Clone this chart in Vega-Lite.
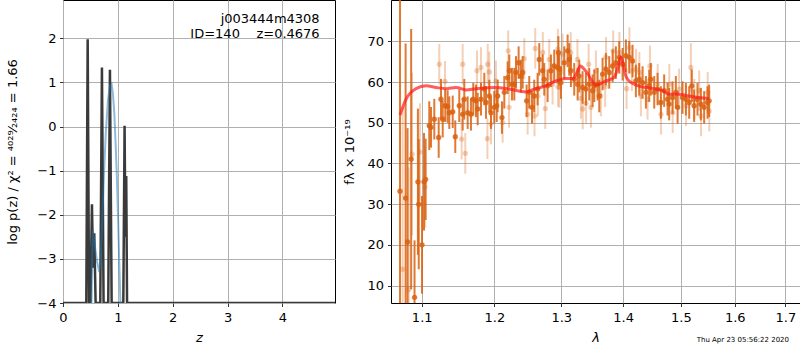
{
  "$schema": "https://vega.github.io/schema/vega-lite/v6.json",
  "padding": {"left": 5, "top": -2, "right": 1, "bottom": 0},
  "bounds": "flush",
  "spacing": 56,
  "config": {
    "font": "DejaVu Sans",
    "view": {"stroke": "black", "strokeWidth": 1},
    "axis": {"domain": false, "grid": true, "gridColor": "#b0b0b0", "gridWidth": 1, "tickColor": "black", "tickSize": 3.5, "tickWidth": 0.8, "labelFontSize": 13, "labelColor": "black", "titleFontSize": 13, "titleFontWeight": "normal", "titleColor": "black", "labelFont": "DejaVu Sans", "titleFont": "DejaVu Sans", "labelFlush": false, "labelOverlap": false}
  },
  "datasets": {
    "chi": [
      {"z": 0.0, "v": -4}, {"z": 0.425, "v": -4}, {"z": 0.45, "v": 1.98}, {"z": 0.475, "v": -4},
      {"z": 0.5, "v": -4}, {"z": 0.528, "v": -1.76}, {"z": 0.548, "v": -3.2}, {"z": 0.57, "v": -2.42}, {"z": 0.595, "v": -4},
      {"z": 0.68, "v": -4}, {"z": 0.71, "v": 1.34}, {"z": 0.74, "v": -4},
      {"z": 0.825, "v": -4}, {"z": 0.856, "v": 1.29}, {"z": 0.887, "v": -4},
      {"z": 1.1, "v": -4}, {"z": 1.123, "v": 0.02}, {"z": 1.138, "v": -2.5}, {"z": 1.153, "v": -1.12}, {"z": 1.168, "v": -4},
      {"z": 4.96, "v": -4}
    ],
    "pz": [
      {"z": 0.51, "v": -5}, {"z": 0.53, "v": -3.2}, {"z": 0.545, "v": -2.35}, {"z": 0.57, "v": -2.6}, {"z": 0.62, "v": -3.05},
      {"z": 0.66, "v": -3.3}, {"z": 0.685, "v": -3.0}, {"z": 0.71, "v": -2.3}, {"z": 0.74, "v": -1.3}, {"z": 0.78, "v": -0.15},
      {"z": 0.82, "v": 0.6}, {"z": 0.856, "v": 0.92}, {"z": 0.886, "v": 0.96}, {"z": 0.91, "v": 0.75}, {"z": 0.935, "v": 0.32},
      {"z": 0.96, "v": -0.4}, {"z": 0.984, "v": -1.19}, {"z": 1.005, "v": -2.1}, {"z": 1.026, "v": -3.08}, {"z": 1.05, "v": -4.1}, {"z": 1.06, "v": -5}
    ],
    "ann": [
      {"z": 4.68, "v": 2.44, "t": "j003444m4308"},
      {"z": 4.68, "v": 2.1, "t": "ID=140\u00a0\u00a0\u00a0\u00a0z=0.4676"}
    ],
    "model": [
      {"l": 1.0718, "f": 51.9}, {"l": 1.0795, "f": 55.8}, {"l": 1.0925, "f": 58.4}, {"l": 1.1057, "f": 59.1}, {"l": 1.119, "f": 58.7},
      {"l": 1.1324, "f": 58.4}, {"l": 1.1461, "f": 58.7}, {"l": 1.1599, "f": 58.1}, {"l": 1.1738, "f": 58.4}, {"l": 1.2022, "f": 58.7},
      {"l": 1.2211, "f": 58.3}, {"l": 1.2462, "f": 57.6}, {"l": 1.2582, "f": 58.3}, {"l": 1.2763, "f": 59.1}, {"l": 1.2917, "f": 60.3},
      {"l": 1.3072, "f": 60.9}, {"l": 1.3182, "f": 60.9}, {"l": 1.325, "f": 62.5}, {"l": 1.33, "f": 64.0}, {"l": 1.335, "f": 63.4},
      {"l": 1.3421, "f": 62.0}, {"l": 1.349, "f": 60.2}, {"l": 1.355, "f": 59.3}, {"l": 1.362, "f": 59.6}, {"l": 1.3713, "f": 60.3},
      {"l": 1.3845, "f": 61.1}, {"l": 1.39, "f": 63.0}, {"l": 1.3961, "f": 66.1}, {"l": 1.4, "f": 64.5}, {"l": 1.4045, "f": 61.5},
      {"l": 1.41, "f": 60.3}, {"l": 1.4163, "f": 59.7}, {"l": 1.4299, "f": 58.9}, {"l": 1.4385, "f": 58.7}, {"l": 1.4558, "f": 58.3},
      {"l": 1.4681, "f": 57.9}, {"l": 1.4787, "f": 57.0}, {"l": 1.4964, "f": 57.0}, {"l": 1.5144, "f": 56.6}, {"l": 1.5327, "f": 56.2},
      {"l": 1.5511, "f": 56.0}
    ],
    "dark": [
      {"l": 1.0718, "f": 33.2, "e": 50}, {"l": 1.079, "f": 31.5, "e": 38}, {"l": 1.0815, "f": 20.7, "e": 28}, {"l": 1.0862, "f": 41.1, "e": 32},
      {"l": 1.0906, "f": 7.1, "e": 14}, {"l": 1.095, "f": 35.5, "e": 18}, {"l": 1.0961, "f": 30.0, "e": 16}, {"l": 1.1004, "f": 20.0, "e": 12},
      {"l": 1.103, "f": 35.5, "e": 12}, {"l": 1.1052, "f": 36.1, "e": 10}, {"l": 1.11, "f": 49.3, "e": 6}, {"l": 1.1123, "f": 48.9, "e": 5},
      {"l": 1.1167, "f": 50.9, "e": 5}, {"l": 1.1226, "f": 46.4, "e": 5}, {"l": 1.1257, "f": 55.8, "e": 5}, {"l": 1.128, "f": 50.9, "e": 4.5},
      {"l": 1.1315, "f": 54.2, "e": 4}, {"l": 1.1347, "f": 54.0, "e": 4}, {"l": 1.1369, "f": 52.5, "e": 4}, {"l": 1.1416, "f": 52.7, "e": 4},
      {"l": 1.1451, "f": 46.6, "e": 4}, {"l": 1.1506, "f": 54.2, "e": 4}, {"l": 1.1553, "f": 52.1, "e": 4}, {"l": 1.1575, "f": 55.8, "e": 5},
      {"l": 1.1622, "f": 52.5, "e": 4}, {"l": 1.1668, "f": 52.1, "e": 4}, {"l": 1.17, "f": 55.8, "e": 4}, {"l": 1.1738, "f": 55.4, "e": 4},
      {"l": 1.1762, "f": 53.4, "e": 4}, {"l": 1.1809, "f": 55.8, "e": 4}, {"l": 1.1856, "f": 58.3, "e": 4}, {"l": 1.188, "f": 55.0, "e": 4},
      {"l": 1.1927, "f": 56.6, "e": 4}, {"l": 1.1951, "f": 52.5, "e": 4}, {"l": 1.1998, "f": 53.8, "e": 4}, {"l": 1.2033, "f": 54.2, "e": 4},
      {"l": 1.2047, "f": 56.6, "e": 4}, {"l": 1.2109, "f": 51.3, "e": 4}, {"l": 1.2143, "f": 57.5, "e": 4}, {"l": 1.2192, "f": 61.1, "e": 4},
      {"l": 1.2216, "f": 62.8, "e": 4}, {"l": 1.2255, "f": 59.5, "e": 4}, {"l": 1.2289, "f": 59.5, "e": 4}, {"l": 1.2314, "f": 62.4, "e": 4},
      {"l": 1.2353, "f": 64.8, "e": 4}, {"l": 1.2387, "f": 61.5, "e": 4}, {"l": 1.2413, "f": 62.4, "e": 4}, {"l": 1.2472, "f": 55.4, "e": 4},
      {"l": 1.2511, "f": 57.5, "e": 4}, {"l": 1.2552, "f": 53.8, "e": 4}, {"l": 1.2586, "f": 56.6, "e": 4}, {"l": 1.2637, "f": 58.3, "e": 4},
      {"l": 1.2662, "f": 65.6, "e": 4}, {"l": 1.2713, "f": 62.8, "e": 4}, {"l": 1.2738, "f": 60.7, "e": 4}, {"l": 1.2789, "f": 59.1, "e": 4},
      {"l": 1.284, "f": 62.8, "e": 4}, {"l": 1.2891, "f": 64.0, "e": 4}, {"l": 1.2943, "f": 63.6, "e": 4}, {"l": 1.2955, "f": 67.3, "e": 4},
      {"l": 1.2969, "f": 63.2, "e": 4}, {"l": 1.2995, "f": 59.9, "e": 4}, {"l": 1.3047, "f": 64.8, "e": 4}, {"l": 1.3099, "f": 67.7, "e": 4},
      {"l": 1.3125, "f": 65.6, "e": 4}, {"l": 1.3151, "f": 62.8, "e": 4}, {"l": 1.3203, "f": 60.7, "e": 4}, {"l": 1.3257, "f": 59.5, "e": 4},
      {"l": 1.3283, "f": 61.5, "e": 4}, {"l": 1.3336, "f": 58.7, "e": 4}, {"l": 1.3389, "f": 58.3, "e": 4}, {"l": 1.3443, "f": 59.5, "e": 4},
      {"l": 1.3497, "f": 57.9, "e": 4}, {"l": 1.3524, "f": 59.1, "e": 4}, {"l": 1.3578, "f": 59.5, "e": 4}, {"l": 1.3605, "f": 56.6, "e": 4},
      {"l": 1.3659, "f": 62.0, "e": 4}, {"l": 1.3713, "f": 63.2, "e": 4}, {"l": 1.3768, "f": 62.4, "e": 4}, {"l": 1.3824, "f": 64.0, "e": 4},
      {"l": 1.3878, "f": 64.8, "e": 4}, {"l": 1.3934, "f": 66.1, "e": 4}, {"l": 1.399, "f": 64.4, "e": 4}, {"l": 1.4045, "f": 66.5, "e": 4},
      {"l": 1.4102, "f": 66.1, "e": 4}, {"l": 1.4158, "f": 65.2, "e": 4}, {"l": 1.4214, "f": 60.3, "e": 4}, {"l": 1.4271, "f": 60.7, "e": 4},
      {"l": 1.4329, "f": 59.9, "e": 4}, {"l": 1.4386, "f": 57.5, "e": 4}, {"l": 1.4443, "f": 59.1, "e": 4}, {"l": 1.4472, "f": 60.7, "e": 4},
      {"l": 1.453, "f": 57.5, "e": 4}, {"l": 1.4588, "f": 58.3, "e": 4}, {"l": 1.4646, "f": 55.0, "e": 4}, {"l": 1.4704, "f": 57.9, "e": 4},
      {"l": 1.4764, "f": 55.8, "e": 4}, {"l": 1.4792, "f": 54.6, "e": 4}, {"l": 1.4852, "f": 56.2, "e": 4}, {"l": 1.4911, "f": 57.5, "e": 4},
      {"l": 1.4942, "f": 53.8, "e": 4}, {"l": 1.5031, "f": 56.2, "e": 4}, {"l": 1.5091, "f": 55.8, "e": 4}, {"l": 1.5151, "f": 55.0, "e": 4},
      {"l": 1.5199, "f": 59.1, "e": 4}, {"l": 1.5241, "f": 54.2, "e": 4}, {"l": 1.5302, "f": 55.8, "e": 4}, {"l": 1.5364, "f": 54.6, "e": 4},
      {"l": 1.5425, "f": 53.8, "e": 4}, {"l": 1.5487, "f": 55.0, "e": 4}, {"l": 1.5517, "f": 55.4, "e": 4}
    ],
    "light": [
      {"l": 1.0752, "f": 14, "e": 40}, {"l": 1.083, "f": 9, "e": 30}, {"l": 1.0874, "f": 42.3, "e": 20}, {"l": 1.0977, "f": 42.8, "e": 12},
      {"l": 1.1044, "f": 34.2, "e": 10}, {"l": 1.1234, "f": 64.4, "e": 5}, {"l": 1.1311, "f": 60.2, "e": 5}, {"l": 1.1539, "f": 46.0, "e": 5},
      {"l": 1.1553, "f": 64.4, "e": 5}, {"l": 1.1589, "f": 42.5, "e": 5}, {"l": 1.1752, "f": 62.8, "e": 5}, {"l": 1.1809, "f": 63.6, "e": 5},
      {"l": 1.19, "f": 46.1, "e": 5}, {"l": 1.1904, "f": 64.4, "e": 5}, {"l": 1.1927, "f": 62.5, "e": 5}, {"l": 1.1951, "f": 49.7, "e": 5},
      {"l": 1.2022, "f": 60.3, "e": 5}, {"l": 1.2119, "f": 50.1, "e": 5}, {"l": 1.22, "f": 67.7, "e": 5}, {"l": 1.2212, "f": 53.8, "e": 5},
      {"l": 1.2437, "f": 65.8, "e": 5}, {"l": 1.2487, "f": 52.1, "e": 5}, {"l": 1.259, "f": 51.7, "e": 5}, {"l": 1.2601, "f": 68.3, "e": 5},
      {"l": 1.264, "f": 56.6, "e": 5}, {"l": 1.2716, "f": 67.3, "e": 5}, {"l": 1.2753, "f": 53.5, "e": 5}, {"l": 1.2814, "f": 65.6, "e": 5},
      {"l": 1.2865, "f": 59.5, "e": 5}, {"l": 1.2946, "f": 68.1, "e": 5}, {"l": 1.295, "f": 58.9, "e": 5}, {"l": 1.2972, "f": 58.7, "e": 5},
      {"l": 1.3021, "f": 66.9, "e": 5}, {"l": 1.3148, "f": 67.3, "e": 5}, {"l": 1.3254, "f": 65.6, "e": 5}, {"l": 1.3309, "f": 56.0, "e": 5},
      {"l": 1.3338, "f": 53.4, "e": 5}, {"l": 1.3392, "f": 54.8, "e": 5}, {"l": 1.3433, "f": 64.4, "e": 5}, {"l": 1.347, "f": 53.8, "e": 5},
      {"l": 1.355, "f": 62.8, "e": 5}, {"l": 1.3631, "f": 56.6, "e": 5}, {"l": 1.3702, "f": 58.9, "e": 5}, {"l": 1.3716, "f": 66.1, "e": 5},
      {"l": 1.3833, "f": 67.7, "e": 5}, {"l": 1.3937, "f": 67.3, "e": 5}, {"l": 1.4057, "f": 58.4, "e": 5}, {"l": 1.4105, "f": 68.5, "e": 5},
      {"l": 1.4147, "f": 62.8, "e": 5}, {"l": 1.4217, "f": 63.2, "e": 5}, {"l": 1.4274, "f": 62.4, "e": 5}, {"l": 1.43, "f": 56.6, "e": 5},
      {"l": 1.4414, "f": 55.8, "e": 5}, {"l": 1.4455, "f": 64.0, "e": 5}, {"l": 1.4591, "f": 59.5, "e": 5}, {"l": 1.4649, "f": 52.1, "e": 5},
      {"l": 1.4795, "f": 59.5, "e": 5}, {"l": 1.4855, "f": 52.5, "e": 5}, {"l": 1.497, "f": 58.3, "e": 5}, {"l": 1.5094, "f": 54.2, "e": 5},
      {"l": 1.5182, "f": 63.6, "e": 6}, {"l": 1.5244, "f": 55.8, "e": 5}, {"l": 1.5333, "f": 57.9, "e": 5}, {"l": 1.5367, "f": 51.7, "e": 5},
      {"l": 1.549, "f": 57.5, "e": 5}, {"l": 1.552, "f": 52.9, "e": 5}
    ]
  },
  "hconcat": [
    {
      "width": 272,
      "height": 303,
      "layer": [
        {
          "data": {"name": "chi"},
          "mark": {"type": "line", "color": "#3a3a3a", "strokeWidth": 2.5, "clip": true},
          "encoding": {
            "x": {"field": "z", "type": "quantitative", "title": "z", "scale": {"domain": [0, 4.96], "nice": false, "zero": false},
                  "axis": {"values": [0, 1, 2, 3, 4], "titleFontStyle": "italic", "labelPadding": 5, "titlePadding": 7}},
            "y": {"field": "v", "type": "quantitative", "title": "log p(z) / χ² = ⁴⁰²⁹⁄₂₄₂₄ = 1.66", "scale": {"domain": [-4, 2.87], "nice": false, "zero": false},
                  "axis": {"values": [-4, -3, -2, -1, 0, 1, 2], "labelPadding": 3.5, "minExtent": 27, "maxExtent": 27, "titlePadding": 17}}
          }
        },
        {
          "data": {"name": "pz"},
          "mark": {"type": "line", "color": "#1f77b4", "opacity": 0.5, "strokeWidth": 2, "clip": true},
          "encoding": {
            "x": {"field": "z", "type": "quantitative", "title": "z"},
            "y": {"field": "v", "type": "quantitative", "title": "log p(z) / χ² = ⁴⁰²⁹⁄₂₄₂₄ = 1.66"}
          }
        },
        {
          "data": {"name": "ann"},
          "mark": {"type": "text", "align": "right", "baseline": "middle", "fontSize": 13, "color": "black"},
          "encoding": {
            "x": {"field": "z", "type": "quantitative", "title": "z"},
            "y": {"field": "v", "type": "quantitative", "title": "log p(z) / χ² = ⁴⁰²⁹⁄₂₄₂₄ = 1.66"},
            "text": {"field": "t"}
          }
        }
      ]
    },
    {
      "width": 409,
      "height": 303,
      "title": {"text": "Thu Apr 23 05:56:22 2020", "orient": "bottom", "anchor": "end", "fontSize": 7, "fontWeight": "normal", "color": "black", "offset": -9, "dx": -11},
      "layer": [
        {
          "data": {"name": "light"},
          "mark": {"type": "errorbar", "color": "#d96210", "opacity": 0.3, "thickness": 2},
          "encoding": {
            "x": {"field": "l", "type": "quantitative", "title": "λ", "scale": {"type": "log", "domain": [1.0603, 1.73], "nice": false},
                  "axis": {"values": [1.1, 1.2, 1.3, 1.4, 1.5, 1.6, 1.7], "format": ".1f", "titleFontStyle": "italic", "labelPadding": 5, "titlePadding": 7}},
            "y": {"field": "f", "type": "quantitative", "title": "fλ × 10⁻¹⁹", "scale": {"domain": [5.7, 80.2], "nice": false, "zero": false, "clamp": true},
                  "axis": {"values": [10, 20, 30, 40, 50, 60, 70], "labelPadding": 4, "titlePadding": 10}},
            "yError": {"field": "e"}
          }
        },
        {
          "data": {"name": "light"},
          "mark": {"type": "circle", "color": "#d96210", "opacity": 0.3, "size": 28},
          "encoding": {
            "x": {"field": "l", "type": "quantitative", "title": "λ"},
            "y": {"field": "f", "type": "quantitative", "title": "fλ × 10⁻¹⁹"}
          }
        },
        {
          "data": {"name": "dark"},
          "mark": {"type": "errorbar", "color": "#d96210", "opacity": 0.85, "thickness": 2},
          "encoding": {
            "x": {"field": "l", "type": "quantitative", "title": "λ"},
            "y": {"field": "f", "type": "quantitative", "title": "fλ × 10⁻¹⁹"},
            "yError": {"field": "e"}
          }
        },
        {
          "data": {"name": "dark"},
          "mark": {"type": "circle", "color": "#d96210", "opacity": 0.85, "size": 28},
          "encoding": {
            "x": {"field": "l", "type": "quantitative", "title": "λ"},
            "y": {"field": "f", "type": "quantitative", "title": "fλ × 10⁻¹⁹"}
          }
        },
        {
          "data": {"name": "model"},
          "mark": {"type": "line", "color": "#ff1a1a", "opacity": 0.7, "strokeWidth": 3, "interpolate": "monotone"},
          "encoding": {
            "x": {"field": "l", "type": "quantitative", "title": "λ"},
            "y": {"field": "f", "type": "quantitative", "title": "fλ × 10⁻¹⁹"}
          }
        }
      ]
    }
  ]
}
